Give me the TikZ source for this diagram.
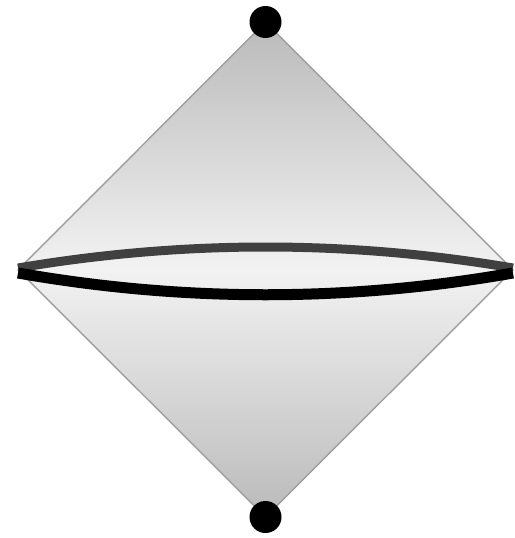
\documentclass[tikz,border=0pt]{standalone}
\begin{document}
\begin{tikzpicture}[x=1pt,y=-1pt,
  dot/.style={circle,fill=black,inner sep=0pt,minimum size=32pt},
  cone/.style={draw=black!38,line width=1.4pt,top color=black!27,bottom color=black!27,middle color=black!5},
  backarc/.style={draw=black!75,line width=9pt},
  frontarc/.style={draw=black,line width=11pt}]
\useasboundingbox (0,0) rectangle (514,538);
\coordinate (T) at (265.5,22);
\coordinate (B) at (265.5,517);
\coordinate (L) at (18,270);
\coordinate (R) at (513,270);
\path[cone] (T) -- (R) -- (B) -- (L) -- cycle;
\draw[backarc] (18,268) .. controls (183,240) and (348,240) .. (513,268);
\draw[frontarc] (18,273) .. controls (183,302) and (348,302) .. (513,273);
\node[dot] (top) at (T) {};
\node[dot] (bot) at (B) {};
\end{tikzpicture}
\end{document}
